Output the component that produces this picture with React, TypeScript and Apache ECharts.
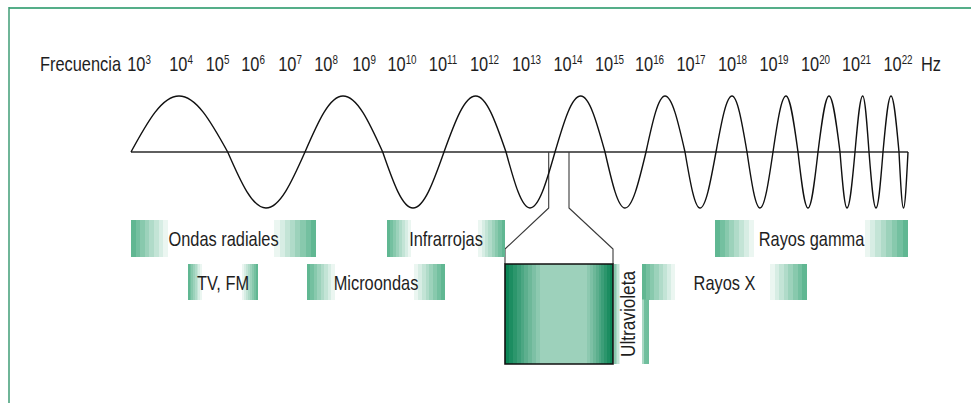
import React, { useEffect, useRef } from "react";
import * as echarts from "echarts";

const FONT = '"Liberation Sans", Arial, Helvetica, sans-serif';
const NARROW = 0.82; // horizontal condensing of the sans face
const TEXT_COLOR = "#1e1e1e";

// ---- Frequency scale (top row): exponents of 10 Hz and where each label sits along the strip
const scaleTitle = "Frecuencia";
const scaleTitlePos = 80.5;
const freqExponents = [3, 4, 5, 6, 7, 8, 9, 10, 11, 12, 13, 14, 15, 16, 17, 18, 19, 20, 21, 22];
const freqLabelPos = [139, 181, 217.5, 253, 290, 326, 364, 402, 443, 484.5, 526.5, 568, 609.5, 649.5, 691, 732.5, 774, 815.5, 856.5, 898];
const unitLabel = "Hz";
const unitPos = 931;

// ---- The chirped wave: successive zero crossings / crests / troughs along the strip
const waveX = [
  131, 179, 227.7, 266, 305, 343, 382.7, 413, 444, 475.7, 506, 530, 555, 580.7, 605, 625, 646, 665, 685, 700,
  716, 732, 747, 760, 773, 786, 798, 808, 818, 829, 840, 847, 855, 862.7, 869, 876, 883, 891, 899, 903.5, 908,
];
const waveLevel = [
  0, 1, 0, -1, 0, 1, 0, -1, 0, 1, 0, -1, 0, 1, 0, -1, 0, 1, 0, -1,
  0, 1, 0, -1, 0, 1, 0, -1, 0, 1, 0, -1, 0, 1, 0, -1, 0, 1, 0, -1, 0,
];

// ---- Spectrum bands
const bandNames = ["Ondas radiales", "Infrarrojas", "Rayos gamma", "TV, FM", "Microondas", "Rayos X", "Ultravioleta"];
const bandStart = [131, 387, 715, 188, 307, 642, 614];
const bandEnd = [316, 505, 908, 258, 445, 807, 642];
const bandRow = [0, 0, 0, 1, 1, 1, 2];

// ---- Visible-light window on the strip and its magnified box
const visibleOnAxis = [548.7, 569];
const visibleBox = [505, 613];

// ---- layout / style constants (diagram units = reference pixels)
const LABEL_Y = 64;
const AXIS_Y = 152;
const AMP = 56;
const rowTop = [220, 264, 264];
const rowBottom = [257, 300, 364];
const BOX_TOP = 264;
const BOX_BOTTOM = 364;
const FUNNEL_Y0 = 208;
const FUNNEL_Y1 = 249;

type RGB = [number, number, number];
const BAND_EDGE: RGB = [96, 183, 146];
const UV_EDGE: RGB = [138, 201, 175];
const WHITE: RGB = [255, 255, 255];
const BOX_EDGE: RGB = [12, 133, 86];
const BOX_MID: RGB = [157, 209, 187];

function mix(a: RGB, b: RGB, t: number) {
  const c = a.map((v, i) => Math.round(v + (b[i] - v) * t));
  return `rgb(${c[0]},${c[1]},${c[2]})`;
}

function stepGradient(edge: RGB, mid: RGB, W: number, fl: number, fr: number, steps = 8) {
  const stops: { offset: number; color: string }[] = [];
  if (fl > 0) {
    for (let i = 0; i < steps; i++) {
      const c = mix(edge, mid, i / steps);
      stops.push({ offset: (i * fl) / steps / W, color: c });
      stops.push({ offset: ((i + 1) * fl) / steps / W, color: c });
    }
  }
  stops.push({ offset: fl / W, color: mix(mid, mid, 0) });
  stops.push({ offset: (W - fr) / W, color: mix(mid, mid, 0) });
  if (fr > 0) {
    for (let i = 0; i < steps; i++) {
      const c = mix(edge, mid, 1 - (i + 1) / steps);
      stops.push({ offset: (W - fr + (i * fr) / steps) / W, color: c });
      stops.push({ offset: (W - fr + ((i + 1) * fr) / steps) / W, color: c });
    }
  }
  return new echarts.graphic.LinearGradient(
    0, 0, 1, 0,
    stops.map((s) => ({ offset: Math.min(1, Math.max(0, s.offset)), color: s.color }))
  );
}

const textStyle = (text: string) => ({
  text,
  fontSize: 20,
  fontFamily: FONT,
  fill: TEXT_COLOR,
  align: "center",
  verticalAlign: "middle",
});

export default function App() {
  const ref = useRef<HTMLDivElement>(null);

  useEffect(() => {
    const chart = echarts.init(ref.current!, null, { renderer: "svg" });

    const scaleLabels = [
      { pos: scaleTitlePos, text: `{b|${scaleTitle}}` },
      ...freqExponents.map((e, i) => ({ pos: freqLabelPos[i], text: `{b|10}{s|${e}}` })),
      { pos: unitPos, text: `{b|${unitLabel}}` },
    ];

    const option: any = {
      animation: false,
      backgroundColor: "#ffffff",
      grid: { left: 0, right: 0, top: 0, bottom: 0 },
      xAxis: { type: "value", min: 0, max: 971, show: false },
      yAxis: { type: "value", min: 0, max: 403, inverse: true, show: false },
      graphic: [
        { type: "line", shape: { x1: 9, y1: 8, x2: 971, y2: 8 }, style: { stroke: "#55ae89", lineWidth: 2 }, z: 10 },
        { type: "line", shape: { x1: 9, y1: 7, x2: 9, y2: 403 }, style: { stroke: "#3f9c76", lineWidth: 1.5 }, z: 10 },
      ],
      series: [
        // frequency scale labels
        {
          type: "custom",
          data: scaleLabels.map((l, i) => [l.pos, LABEL_Y, i]),
          clip: false,
          silent: true,
          z: 5,
          renderItem: (_p: any, api: any) => {
            const i = api.value(2);
            const pt = api.coord([api.value(0), api.value(1)]);
            return {
              type: "text",
              x: pt[0],
              y: pt[1],
              scaleX: NARROW,
              style: {
                text: scaleLabels[i].text,
                align: "center",
                verticalAlign: "middle",
                fill: TEXT_COLOR,
                rich: {
                  b: { fontSize: 20, lineHeight: 20, fontFamily: FONT, fill: TEXT_COLOR },
                  s: { fontSize: 12, lineHeight: 12, fontFamily: FONT, fill: TEXT_COLOR, verticalAlign: "top" },
                },
              },
            };
          },
        },
        // strip axis
        {
          type: "line",
          data: [
            [waveX[0], AXIS_Y],
            [waveX[waveX.length - 1], AXIS_Y],
          ],
          symbol: "none",
          silent: true,
          lineStyle: { color: "#2a2a2a", width: 1.3 },
          z: 2,
        },
        // wave
        {
          type: "custom",
          data: [[0, 0]],
          clip: false,
          silent: true,
          z: 3,
          renderItem: (_p: any, api: any) => {
            const pts = waveX.map((x, i) => api.coord([x, AXIS_Y - AMP * waveLevel[i]]));
            let d = `M${pts[0][0]},${pts[0][1]}`;
            for (let i = 1; i < pts.length; i++) {
              const [x0, y0] = pts[i - 1];
              const [x1, y1] = pts[i];
              const dx = x1 - x0;
              let c1: number[], c2: number[];
              if (waveLevel[i - 1] === 0) {
                c1 = [x0 + 0.3516 * dx, y0 + 0.5523 * (y1 - y0)];
                c2 = [x0 + 0.6484 * dx, y1];
              } else {
                c1 = [x0 + 0.3516 * dx, y0];
                c2 = [x0 + 0.6484 * dx, y1 + 0.5523 * (y0 - y1)];
              }
              d += ` C${c1[0]},${c1[1]} ${c2[0]},${c2[1]} ${x1},${y1}`;
            }
            return { type: "path", shape: { pathData: d }, style: { fill: "none", stroke: "#111", lineWidth: 1.4 } };
          },
        },
        // funnel connectors to the visible-light box
        ...[0, 1].map((k) => ({
          type: "line",
          data: [
            [visibleOnAxis[k], AXIS_Y],
            [visibleOnAxis[k], FUNNEL_Y0],
            [visibleBox[k], FUNNEL_Y1],
            [visibleBox[k], BOX_TOP],
          ],
          symbol: "none",
          silent: true,
          lineStyle: { color: "#3a3a3a", width: 1.1 },
          z: 2,
        })),
        // visible-light box
        {
          type: "custom",
          data: [[visibleBox[0], visibleBox[1]]],
          clip: false,
          silent: true,
          z: 4,
          renderItem: (_p: any, api: any) => {
            const a = api.coord([api.value(0), BOX_TOP]);
            const b = api.coord([api.value(1), BOX_BOTTOM]);
            const W = b[0] - a[0];
            return {
              type: "rect",
              shape: { x: a[0], y: a[1], width: W, height: b[1] - a[1] },
              style: { fill: stepGradient(BOX_EDGE, BOX_MID, W, 35, 26, 9), stroke: "#111", lineWidth: 1.6 },
            };
          },
        },
        // bands
        {
          type: "custom",
          data: bandNames.map((n, i) => [bandStart[i], bandEnd[i], bandRow[i], i]),
          clip: false,
          silent: true,
          z: 3,
          renderItem: (_p: any, api: any) => {
            const i = api.value(3);
            const row = api.value(2);
            const a = api.coord([api.value(0), rowTop[row]]);
            const b = api.coord([api.value(1), rowBottom[row]]);
            const W = b[0] - a[0];
            const H = b[1] - a[1];
            const children: any[] = [];
            if (row === 2) {
              children.push({
                type: "rect",
                shape: { x: a[0], y: a[1], width: 6, height: H },
                style: { fill: stepGradient(UV_EDGE, WHITE, 6, 6, 0, 4) },
              });
              children.push({
                type: "text",
                x: a[0] + W / 2,
                y: a[1] + H / 2,
                rotation: Math.PI / 2,
                scaleX: NARROW + 0.04,
                style: textStyle(bandNames[i]),
              });
            } else {
              children.push({
                type: "rect",
                shape: { x: a[0], y: a[1], width: W, height: H },
                style: { fill: stepGradient(BAND_EDGE, WHITE, W, W * 0.2, W * 0.225, 8) },
              });
              if (bandNames[i] === "Rayos X") {
                const bottom = api.coord([0, rowBottom[2]])[1];
                children.push({
                  type: "rect",
                  shape: { x: a[0], y: b[1] - 0.5, width: 7, height: bottom - b[1] + 0.5 },
                  style: {
                    fill: new echarts.graphic.LinearGradient(0, 0, 1, 0, [
                      { offset: 0, color: "#a9d8c4" },
                      { offset: 0.3, color: "#a9d8c4" },
                      { offset: 0.3, color: "#73c09f" },
                      { offset: 1, color: "#6cbd9a" },
                    ]),
                  },
                });
              }
              children.push({
                type: "text",
                x: a[0] + W / 2,
                y: a[1] + H / 2 + 0.5,
                scaleX: NARROW,
                style: textStyle(bandNames[i]),
              });
            }
            return { type: "group", children };
          },
        },
      ],
    };

    chart.setOption(option);
    return () => chart.dispose();
  }, []);

  return (
    <div
      ref={ref}
      style={{ position: "absolute", left: 0, top: 0, width: 971, height: 403, background: "#ffffff" }}
    />
  );
}
